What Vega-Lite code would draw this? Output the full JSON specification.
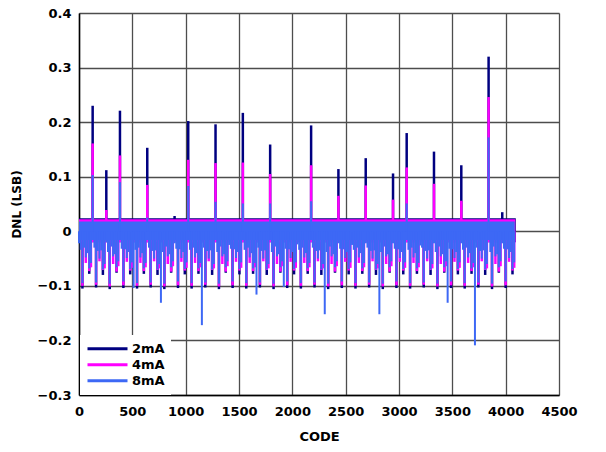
{
  "$schema": "https://vega.github.io/schema/vega-lite/v6.json",
  "autosize": {"type": "none"},
  "padding": {"left": 79, "top": 13, "right": 47, "bottom": 57},
  "width": 480,
  "height": 382,
  "background": "white",
  "config": {"font": "DejaVu Sans", "view": {"stroke": null}},
  "title": {
    "text": "11121-015",
    "orient": "right",
    "anchor": "end",
    "angle": -90,
    "align": "left",
    "font": "Liberation Sans",
    "fontSize": 10,
    "fontWeight": "normal",
    "color": "#444444",
    "offset": 27
  },
  "datasets": {
    "bands": [
      {"series": "2mA", "code": 0, "dnl": 0.024, "lo": -0.02},
      {"series": "2mA", "code": 4095, "dnl": 0.024, "lo": -0.02},
      {"series": "4mA", "code": 0, "dnl": 0.022, "lo": -0.02},
      {"series": "4mA", "code": 4090, "dnl": 0.022, "lo": -0.02},
      {"series": "8mA", "code": 0, "dnl": 0.018, "lo": -0.016},
      {"series": "8mA", "code": 4085, "dnl": 0.018, "lo": -0.016}
    ],
    "i2mA": [
      {"code": 128, "dnl": 0.23}, {"code": 256, "dnl": 0.112}, {"code": 384, "dnl": 0.221}, {"code": 640, "dnl": 0.153},
      {"code": 896, "dnl": 0.028}, {"code": 1024, "dnl": 0.202}, {"code": 1280, "dnl": 0.196}, {"code": 1536, "dnl": 0.217},
      {"code": 1792, "dnl": 0.159}, {"code": 2176, "dnl": 0.194}, {"code": 2432, "dnl": 0.114}, {"code": 2688, "dnl": 0.134},
      {"code": 2944, "dnl": 0.106}, {"code": 3072, "dnl": 0.18}, {"code": 3328, "dnl": 0.146}, {"code": 3584, "dnl": 0.121},
      {"code": 3840, "dnl": 0.32}, {"code": 3968, "dnl": 0.035},
      {"code": 32, "dnl": -0.105}, {"code": 160, "dnl": -0.103}, {"code": 288, "dnl": -0.106}, {"code": 416, "dnl": -0.104},
      {"code": 544, "dnl": -0.105}, {"code": 672, "dnl": -0.103}, {"code": 800, "dnl": -0.106}, {"code": 928, "dnl": -0.104},
      {"code": 1056, "dnl": -0.105}, {"code": 1184, "dnl": -0.103}, {"code": 1312, "dnl": -0.106}, {"code": 1440, "dnl": -0.104},
      {"code": 1568, "dnl": -0.105}, {"code": 1696, "dnl": -0.103}, {"code": 1824, "dnl": -0.106}, {"code": 1952, "dnl": -0.104},
      {"code": 2080, "dnl": -0.105}, {"code": 2208, "dnl": -0.103}, {"code": 2336, "dnl": -0.106}, {"code": 2464, "dnl": -0.104},
      {"code": 2592, "dnl": -0.105}, {"code": 2720, "dnl": -0.103}, {"code": 2848, "dnl": -0.106}, {"code": 2976, "dnl": -0.104},
      {"code": 3104, "dnl": -0.105}, {"code": 3232, "dnl": -0.103}, {"code": 3360, "dnl": -0.106}, {"code": 3488, "dnl": -0.104},
      {"code": 3616, "dnl": -0.105}, {"code": 3744, "dnl": -0.103}, {"code": 3872, "dnl": -0.106}, {"code": 4000, "dnl": -0.104},
      {"code": 96, "dnl": -0.078}, {"code": 224, "dnl": -0.08}, {"code": 352, "dnl": -0.076}, {"code": 480, "dnl": -0.079},
      {"code": 608, "dnl": -0.078}, {"code": 736, "dnl": -0.08}, {"code": 864, "dnl": -0.076}, {"code": 992, "dnl": -0.079},
      {"code": 1120, "dnl": -0.078}, {"code": 1248, "dnl": -0.08}, {"code": 1376, "dnl": -0.076}, {"code": 1504, "dnl": -0.079},
      {"code": 1632, "dnl": -0.078}, {"code": 1760, "dnl": -0.08}, {"code": 1888, "dnl": -0.076}, {"code": 2016, "dnl": -0.079},
      {"code": 2144, "dnl": -0.078}, {"code": 2272, "dnl": -0.08}, {"code": 2400, "dnl": -0.076}, {"code": 2528, "dnl": -0.079},
      {"code": 2656, "dnl": -0.078}, {"code": 2784, "dnl": -0.08}, {"code": 2912, "dnl": -0.076}, {"code": 3040, "dnl": -0.079},
      {"code": 3168, "dnl": -0.078}, {"code": 3296, "dnl": -0.08}, {"code": 3424, "dnl": -0.076}, {"code": 3552, "dnl": -0.079},
      {"code": 3680, "dnl": -0.078}, {"code": 3808, "dnl": -0.08}, {"code": 3936, "dnl": -0.076}, {"code": 4064, "dnl": -0.079}
    ],
    "i4mA": [
      {"code": 128, "dnl": 0.161}, {"code": 256, "dnl": 0.039}, {"code": 384, "dnl": 0.139}, {"code": 640, "dnl": 0.085},
      {"code": 1024, "dnl": 0.131}, {"code": 1280, "dnl": 0.125}, {"code": 1536, "dnl": 0.126}, {"code": 1792, "dnl": 0.105},
      {"code": 2176, "dnl": 0.121}, {"code": 2432, "dnl": 0.065}, {"code": 2688, "dnl": 0.084}, {"code": 2944, "dnl": 0.058},
      {"code": 3072, "dnl": 0.117}, {"code": 3328, "dnl": 0.087}, {"code": 3584, "dnl": 0.056}, {"code": 3840, "dnl": 0.246},
      {"code": 32, "dnl": -0.1}, {"code": 160, "dnl": -0.098}, {"code": 288, "dnl": -0.101}, {"code": 416, "dnl": -0.099},
      {"code": 544, "dnl": -0.1}, {"code": 672, "dnl": -0.098}, {"code": 800, "dnl": -0.101}, {"code": 928, "dnl": -0.099},
      {"code": 1056, "dnl": -0.1}, {"code": 1184, "dnl": -0.098}, {"code": 1312, "dnl": -0.101}, {"code": 1440, "dnl": -0.099},
      {"code": 1568, "dnl": -0.1}, {"code": 1696, "dnl": -0.098}, {"code": 1824, "dnl": -0.101}, {"code": 1952, "dnl": -0.099},
      {"code": 2080, "dnl": -0.1}, {"code": 2208, "dnl": -0.098}, {"code": 2336, "dnl": -0.101}, {"code": 2464, "dnl": -0.099},
      {"code": 2592, "dnl": -0.1}, {"code": 2720, "dnl": -0.098}, {"code": 2848, "dnl": -0.101}, {"code": 2976, "dnl": -0.099},
      {"code": 3104, "dnl": -0.1}, {"code": 3232, "dnl": -0.098}, {"code": 3360, "dnl": -0.101}, {"code": 3488, "dnl": -0.099},
      {"code": 3616, "dnl": -0.1}, {"code": 3744, "dnl": -0.098}, {"code": 3872, "dnl": -0.101}, {"code": 4000, "dnl": -0.099},
      {"code": 64, "dnl": -0.058}, {"code": 192, "dnl": -0.055}, {"code": 320, "dnl": -0.06}, {"code": 448, "dnl": -0.056},
      {"code": 576, "dnl": -0.058}, {"code": 704, "dnl": -0.055}, {"code": 832, "dnl": -0.06}, {"code": 960, "dnl": -0.056},
      {"code": 1088, "dnl": -0.058}, {"code": 1216, "dnl": -0.055}, {"code": 1344, "dnl": -0.06}, {"code": 1472, "dnl": -0.056},
      {"code": 1600, "dnl": -0.058}, {"code": 1728, "dnl": -0.055}, {"code": 1856, "dnl": -0.06}, {"code": 1984, "dnl": -0.056},
      {"code": 2112, "dnl": -0.058}, {"code": 2240, "dnl": -0.055}, {"code": 2368, "dnl": -0.06}, {"code": 2496, "dnl": -0.056},
      {"code": 2624, "dnl": -0.058}, {"code": 2752, "dnl": -0.055}, {"code": 2880, "dnl": -0.06}, {"code": 3008, "dnl": -0.056},
      {"code": 3136, "dnl": -0.058}, {"code": 3264, "dnl": -0.055}, {"code": 3392, "dnl": -0.06}, {"code": 3520, "dnl": -0.056},
      {"code": 3648, "dnl": -0.058}, {"code": 3776, "dnl": -0.055}, {"code": 3904, "dnl": -0.06}, {"code": 4032, "dnl": -0.056},
      {"code": 96, "dnl": -0.073}, {"code": 224, "dnl": -0.071}, {"code": 352, "dnl": -0.074}, {"code": 480, "dnl": -0.072},
      {"code": 608, "dnl": -0.073}, {"code": 736, "dnl": -0.071}, {"code": 864, "dnl": -0.074}, {"code": 992, "dnl": -0.072},
      {"code": 1120, "dnl": -0.073}, {"code": 1248, "dnl": -0.071}, {"code": 1376, "dnl": -0.074}, {"code": 1504, "dnl": -0.072},
      {"code": 1632, "dnl": -0.073}, {"code": 1760, "dnl": -0.071}, {"code": 1888, "dnl": -0.074}, {"code": 2016, "dnl": -0.072},
      {"code": 2144, "dnl": -0.073}, {"code": 2272, "dnl": -0.071}, {"code": 2400, "dnl": -0.074}, {"code": 2528, "dnl": -0.072},
      {"code": 2656, "dnl": -0.073}, {"code": 2784, "dnl": -0.071}, {"code": 2912, "dnl": -0.074}, {"code": 3040, "dnl": -0.072},
      {"code": 3168, "dnl": -0.073}, {"code": 3296, "dnl": -0.071}, {"code": 3424, "dnl": -0.074}, {"code": 3552, "dnl": -0.072},
      {"code": 3680, "dnl": -0.073}, {"code": 3808, "dnl": -0.071}, {"code": 3936, "dnl": -0.074}, {"code": 4064, "dnl": -0.072},
      {"code": 112, "dnl": -0.066}, {"code": 240, "dnl": -0.068}, {"code": 368, "dnl": -0.064}, {"code": 496, "dnl": -0.067},
      {"code": 624, "dnl": -0.066}, {"code": 752, "dnl": -0.068}, {"code": 880, "dnl": -0.064}, {"code": 1008, "dnl": -0.067},
      {"code": 1136, "dnl": -0.066}, {"code": 1264, "dnl": -0.068}, {"code": 1392, "dnl": -0.064}, {"code": 1520, "dnl": -0.067},
      {"code": 1648, "dnl": -0.066}, {"code": 1776, "dnl": -0.068}, {"code": 1904, "dnl": -0.064}, {"code": 2032, "dnl": -0.067},
      {"code": 2160, "dnl": -0.066}, {"code": 2288, "dnl": -0.068}, {"code": 2416, "dnl": -0.064}, {"code": 2544, "dnl": -0.067},
      {"code": 2672, "dnl": -0.066}, {"code": 2800, "dnl": -0.068}, {"code": 2928, "dnl": -0.064}, {"code": 3056, "dnl": -0.067},
      {"code": 3184, "dnl": -0.066}, {"code": 3312, "dnl": -0.068}, {"code": 3440, "dnl": -0.064}, {"code": 3568, "dnl": -0.067},
      {"code": 3696, "dnl": -0.066}, {"code": 3824, "dnl": -0.068}, {"code": 3952, "dnl": -0.064}, {"code": 4080, "dnl": -0.067}
    ],
    "i8mA": [
      {"code": 0, "dnl": -0.022}, {"code": 16, "dnl": -0.034}, {"code": 32, "dnl": -0.095}, {"code": 48, "dnl": -0.03}, {"code": 64, "dnl": -0.048}, {"code": 80, "dnl": -0.04}, {"code": 96, "dnl": -0.068}, {"code": 112, "dnl": -0.058},
      {"code": 128, "dnl": 0.103}, {"code": 144, "dnl": -0.03}, {"code": 160, "dnl": -0.094}, {"code": 176, "dnl": -0.036}, {"code": 192, "dnl": -0.05}, {"code": 208, "dnl": -0.035}, {"code": 224, "dnl": -0.07}, {"code": 240, "dnl": -0.06},
      {"code": 256, "dnl": -0.02}, {"code": 272, "dnl": -0.038}, {"code": 288, "dnl": -0.096}, {"code": 304, "dnl": -0.028}, {"code": 320, "dnl": -0.046}, {"code": 336, "dnl": -0.042}, {"code": 352, "dnl": -0.066}, {"code": 368, "dnl": -0.055},
      {"code": 384, "dnl": 0.09}, {"code": 400, "dnl": -0.032}, {"code": 416, "dnl": -0.092}, {"code": 432, "dnl": -0.033}, {"code": 448, "dnl": -0.049}, {"code": 464, "dnl": -0.038}, {"code": 480, "dnl": -0.069}, {"code": 496, "dnl": -0.057},
      {"code": 512, "dnl": -0.104}, {"code": 528, "dnl": -0.034}, {"code": 544, "dnl": -0.095}, {"code": 560, "dnl": -0.03}, {"code": 576, "dnl": -0.048}, {"code": 592, "dnl": -0.04}, {"code": 608, "dnl": -0.068}, {"code": 624, "dnl": -0.058},
      {"code": 640, "dnl": 0.025}, {"code": 656, "dnl": -0.03}, {"code": 672, "dnl": -0.094}, {"code": 688, "dnl": -0.036}, {"code": 704, "dnl": -0.05}, {"code": 720, "dnl": -0.035}, {"code": 736, "dnl": -0.07}, {"code": 752, "dnl": -0.06},
      {"code": 768, "dnl": -0.131}, {"code": 784, "dnl": -0.038}, {"code": 800, "dnl": -0.096}, {"code": 816, "dnl": -0.028}, {"code": 832, "dnl": -0.046}, {"code": 848, "dnl": -0.042}, {"code": 864, "dnl": -0.066}, {"code": 880, "dnl": -0.055},
      {"code": 896, "dnl": -0.022}, {"code": 912, "dnl": -0.032}, {"code": 928, "dnl": -0.092}, {"code": 944, "dnl": -0.033}, {"code": 960, "dnl": -0.049}, {"code": 976, "dnl": -0.038}, {"code": 992, "dnl": -0.069}, {"code": 1008, "dnl": -0.057},
      {"code": 1024, "dnl": 0.083}, {"code": 1040, "dnl": -0.034}, {"code": 1056, "dnl": -0.095}, {"code": 1072, "dnl": -0.03}, {"code": 1088, "dnl": -0.048}, {"code": 1104, "dnl": -0.04}, {"code": 1120, "dnl": -0.068}, {"code": 1136, "dnl": -0.058},
      {"code": 1152, "dnl": -0.172}, {"code": 1168, "dnl": -0.03}, {"code": 1184, "dnl": -0.094}, {"code": 1200, "dnl": -0.036}, {"code": 1216, "dnl": -0.05}, {"code": 1232, "dnl": -0.035}, {"code": 1248, "dnl": -0.07}, {"code": 1264, "dnl": -0.06},
      {"code": 1280, "dnl": 0.054}, {"code": 1296, "dnl": -0.038}, {"code": 1312, "dnl": -0.096}, {"code": 1328, "dnl": -0.028}, {"code": 1344, "dnl": -0.046}, {"code": 1360, "dnl": -0.042}, {"code": 1376, "dnl": -0.066}, {"code": 1392, "dnl": -0.055},
      {"code": 1408, "dnl": -0.025}, {"code": 1424, "dnl": -0.032}, {"code": 1440, "dnl": -0.092}, {"code": 1456, "dnl": -0.033}, {"code": 1472, "dnl": -0.049}, {"code": 1488, "dnl": -0.038}, {"code": 1504, "dnl": -0.069}, {"code": 1520, "dnl": -0.057},
      {"code": 1536, "dnl": 0.051}, {"code": 1552, "dnl": -0.034}, {"code": 1568, "dnl": -0.095}, {"code": 1584, "dnl": -0.03}, {"code": 1600, "dnl": -0.048}, {"code": 1616, "dnl": -0.04}, {"code": 1632, "dnl": -0.068}, {"code": 1648, "dnl": -0.058},
      {"code": 1664, "dnl": -0.116}, {"code": 1680, "dnl": -0.03}, {"code": 1696, "dnl": -0.094}, {"code": 1712, "dnl": -0.036}, {"code": 1728, "dnl": -0.05}, {"code": 1744, "dnl": -0.035}, {"code": 1760, "dnl": -0.07}, {"code": 1776, "dnl": -0.06},
      {"code": 1792, "dnl": 0.051}, {"code": 1808, "dnl": -0.038}, {"code": 1824, "dnl": -0.096}, {"code": 1840, "dnl": -0.028}, {"code": 1856, "dnl": -0.046}, {"code": 1872, "dnl": -0.042}, {"code": 1888, "dnl": -0.066}, {"code": 1904, "dnl": -0.055},
      {"code": 1920, "dnl": -0.102}, {"code": 1936, "dnl": -0.032}, {"code": 1952, "dnl": -0.092}, {"code": 1968, "dnl": -0.033}, {"code": 1984, "dnl": -0.049}, {"code": 2000, "dnl": -0.038}, {"code": 2016, "dnl": -0.069}, {"code": 2032, "dnl": -0.057},
      {"code": 2048, "dnl": -0.024}, {"code": 2064, "dnl": -0.034}, {"code": 2080, "dnl": -0.095}, {"code": 2096, "dnl": -0.03}, {"code": 2112, "dnl": -0.048}, {"code": 2128, "dnl": -0.04}, {"code": 2144, "dnl": -0.068}, {"code": 2160, "dnl": -0.058},
      {"code": 2176, "dnl": 0.055}, {"code": 2192, "dnl": -0.03}, {"code": 2208, "dnl": -0.094}, {"code": 2224, "dnl": -0.036}, {"code": 2240, "dnl": -0.05}, {"code": 2256, "dnl": -0.035}, {"code": 2272, "dnl": -0.07}, {"code": 2288, "dnl": -0.06},
      {"code": 2304, "dnl": -0.152}, {"code": 2320, "dnl": -0.038}, {"code": 2336, "dnl": -0.096}, {"code": 2352, "dnl": -0.028}, {"code": 2368, "dnl": -0.046}, {"code": 2384, "dnl": -0.042}, {"code": 2400, "dnl": -0.066}, {"code": 2416, "dnl": -0.055},
      {"code": 2432, "dnl": -0.022}, {"code": 2448, "dnl": -0.032}, {"code": 2464, "dnl": -0.092}, {"code": 2480, "dnl": -0.033}, {"code": 2496, "dnl": -0.049}, {"code": 2512, "dnl": -0.038}, {"code": 2528, "dnl": -0.069}, {"code": 2544, "dnl": -0.057},
      {"code": 2560, "dnl": -0.025}, {"code": 2576, "dnl": -0.034}, {"code": 2592, "dnl": -0.095}, {"code": 2608, "dnl": -0.03}, {"code": 2624, "dnl": -0.048}, {"code": 2640, "dnl": -0.04}, {"code": 2656, "dnl": -0.068}, {"code": 2672, "dnl": -0.058},
      {"code": 2688, "dnl": -0.022}, {"code": 2704, "dnl": -0.03}, {"code": 2720, "dnl": -0.094}, {"code": 2736, "dnl": -0.036}, {"code": 2752, "dnl": -0.05}, {"code": 2768, "dnl": -0.035}, {"code": 2784, "dnl": -0.07}, {"code": 2800, "dnl": -0.06},
      {"code": 2816, "dnl": -0.152}, {"code": 2832, "dnl": -0.038}, {"code": 2848, "dnl": -0.096}, {"code": 2864, "dnl": -0.028}, {"code": 2880, "dnl": -0.046}, {"code": 2896, "dnl": -0.042}, {"code": 2912, "dnl": -0.066}, {"code": 2928, "dnl": -0.055},
      {"code": 2944, "dnl": -0.022}, {"code": 2960, "dnl": -0.032}, {"code": 2976, "dnl": -0.092}, {"code": 2992, "dnl": -0.033}, {"code": 3008, "dnl": -0.049}, {"code": 3024, "dnl": -0.038}, {"code": 3040, "dnl": -0.069}, {"code": 3056, "dnl": -0.057},
      {"code": 3072, "dnl": 0.051}, {"code": 3088, "dnl": -0.034}, {"code": 3104, "dnl": -0.095}, {"code": 3120, "dnl": -0.03}, {"code": 3136, "dnl": -0.048}, {"code": 3152, "dnl": -0.04}, {"code": 3168, "dnl": -0.068}, {"code": 3184, "dnl": -0.058},
      {"code": 3200, "dnl": -0.026}, {"code": 3216, "dnl": -0.03}, {"code": 3232, "dnl": -0.094}, {"code": 3248, "dnl": -0.036}, {"code": 3264, "dnl": -0.05}, {"code": 3280, "dnl": -0.035}, {"code": 3296, "dnl": -0.07}, {"code": 3312, "dnl": -0.06},
      {"code": 3328, "dnl": -0.022}, {"code": 3344, "dnl": -0.038}, {"code": 3360, "dnl": -0.096}, {"code": 3376, "dnl": -0.028}, {"code": 3392, "dnl": -0.046}, {"code": 3408, "dnl": -0.042}, {"code": 3424, "dnl": -0.066}, {"code": 3440, "dnl": -0.055},
      {"code": 3456, "dnl": -0.131}, {"code": 3472, "dnl": -0.032}, {"code": 3488, "dnl": -0.092}, {"code": 3504, "dnl": -0.033}, {"code": 3520, "dnl": -0.049}, {"code": 3536, "dnl": -0.038}, {"code": 3552, "dnl": -0.069}, {"code": 3568, "dnl": -0.057},
      {"code": 3584, "dnl": -0.022}, {"code": 3600, "dnl": -0.034}, {"code": 3616, "dnl": -0.095}, {"code": 3632, "dnl": -0.03}, {"code": 3648, "dnl": -0.048}, {"code": 3664, "dnl": -0.04}, {"code": 3680, "dnl": -0.068}, {"code": 3696, "dnl": -0.058},
      {"code": 3712, "dnl": -0.209}, {"code": 3728, "dnl": -0.03}, {"code": 3744, "dnl": -0.094}, {"code": 3760, "dnl": -0.036}, {"code": 3776, "dnl": -0.05}, {"code": 3792, "dnl": -0.035}, {"code": 3808, "dnl": -0.07}, {"code": 3824, "dnl": -0.06},
      {"code": 3840, "dnl": 0.172}, {"code": 3856, "dnl": -0.038}, {"code": 3872, "dnl": -0.096}, {"code": 3888, "dnl": -0.028}, {"code": 3904, "dnl": -0.046}, {"code": 3920, "dnl": -0.042}, {"code": 3936, "dnl": -0.066}, {"code": 3952, "dnl": -0.055},
      {"code": 3968, "dnl": -0.022}, {"code": 3984, "dnl": -0.032}, {"code": 4000, "dnl": -0.092}, {"code": 4016, "dnl": -0.033}, {"code": 4032, "dnl": -0.049}, {"code": 4048, "dnl": -0.038}, {"code": 4064, "dnl": -0.069}, {"code": 4080, "dnl": -0.057}
    ]
  },
  "encoding": {
    "x": {
      "field": "code",
      "type": "quantitative",
      "scale": {"domain": [0, 4500], "nice": false, "zero": false},
      "axis": {
        "values": [0, 500, 1000, 1500, 2000, 2500, 3000, 3500, 4000, 4500],
        "format": "d",
        "title": "CODE",
        "grid": true,
        "ticks": false,
        "labelFlush": false,
        "labelOverlap": false,
        "labelPadding": 10,
        "labelFontSize": 13,
        "labelFontWeight": "bold",
        "labelColor": "black",
        "titleFontSize": 13,
        "titleFontWeight": "bold",
        "titleColor": "black",
        "titlePadding": 12,
        "domainColor": "black",
        "domainWidth": 1.5,
        "gridColor": "#4d4d4d",
        "gridWidth": 1.3
      }
    },
    "y": {
      "field": "dnl",
      "type": "quantitative",
      "scale": {"domain": [-0.3, 0.4], "nice": false, "zero": false},
      "axis": {
        "values": [-0.3, -0.2, -0.1, 0, 0.1, 0.2, 0.3, 0.4],
        "labelExpr": "datum.value == 0 ? '0' : replace(format(datum.value, '.1f'), '-', '−')",
        "title": "DNL (LSB)",
        "grid": true,
        "ticks": false,
        "labelPadding": 8,
        "labelFontSize": 13,
        "labelFontWeight": "bold",
        "labelColor": "black",
        "titleFontSize": 12,
        "titleFontWeight": "bold",
        "titleColor": "black",
        "titlePadding": 14,
        "domainColor": "black",
        "domainWidth": 1.5,
        "gridColor": "#4d4d4d",
        "gridWidth": 1.3
      }
    }
  },
  "layer": [
    {
      "data": {"name": "bands"},
      "transform": [{"filter": "datum.series === '2mA'"}],
      "mark": {"type": "area", "color": "#000080"},
      "encoding": {"y2": {"field": "lo"}}
    },
    {
      "data": {"name": "i2mA"},
      "mark": {"type": "rule", "strokeWidth": 2.5},
      "encoding": {
        "y2": {"datum": 0},
        "color": {
          "datum": "2mA",
          "scale": {"domain": ["2mA", "4mA", "8mA"], "range": ["#000080", "#ff00ff", "#3d68f5"]},
          "legend": {
            "title": null,
            "orient": "none",
            "legendX": 1,
            "legendY": 322,
            "symbolType": "stroke",
            "symbolSize": 1600,
            "symbolStrokeWidth": 3,
            "labelFont": "DejaVu Sans",
            "labelFontSize": 13,
            "labelFontWeight": "bold",
            "labelColor": "black",
            "labelOffset": 3,
            "clipHeight": 15.5,
            "rowPadding": 0,
            "padding": 6,
            "fillColor": "white"
          }
        }
      }
    },
    {
      "data": {"name": "bands"},
      "transform": [{"filter": "datum.series === '4mA'"}],
      "mark": {"type": "area", "color": "#ff00ff"},
      "encoding": {"y2": {"field": "lo"}}
    },
    {
      "data": {"name": "i4mA"},
      "mark": {"type": "rule", "strokeWidth": 2.5},
      "encoding": {"y2": {"datum": 0}, "color": {"datum": "4mA"}}
    },
    {
      "data": {"name": "bands"},
      "transform": [{"filter": "datum.series === '8mA'"}],
      "mark": {"type": "area", "color": "#3d68f5"},
      "encoding": {"y2": {"field": "lo"}}
    },
    {
      "data": {"name": "i8mA"},
      "mark": {"type": "rule", "strokeWidth": 2},
      "encoding": {"y2": {"datum": 0}, "color": {"datum": "8mA"}}
    }
  ]
}
